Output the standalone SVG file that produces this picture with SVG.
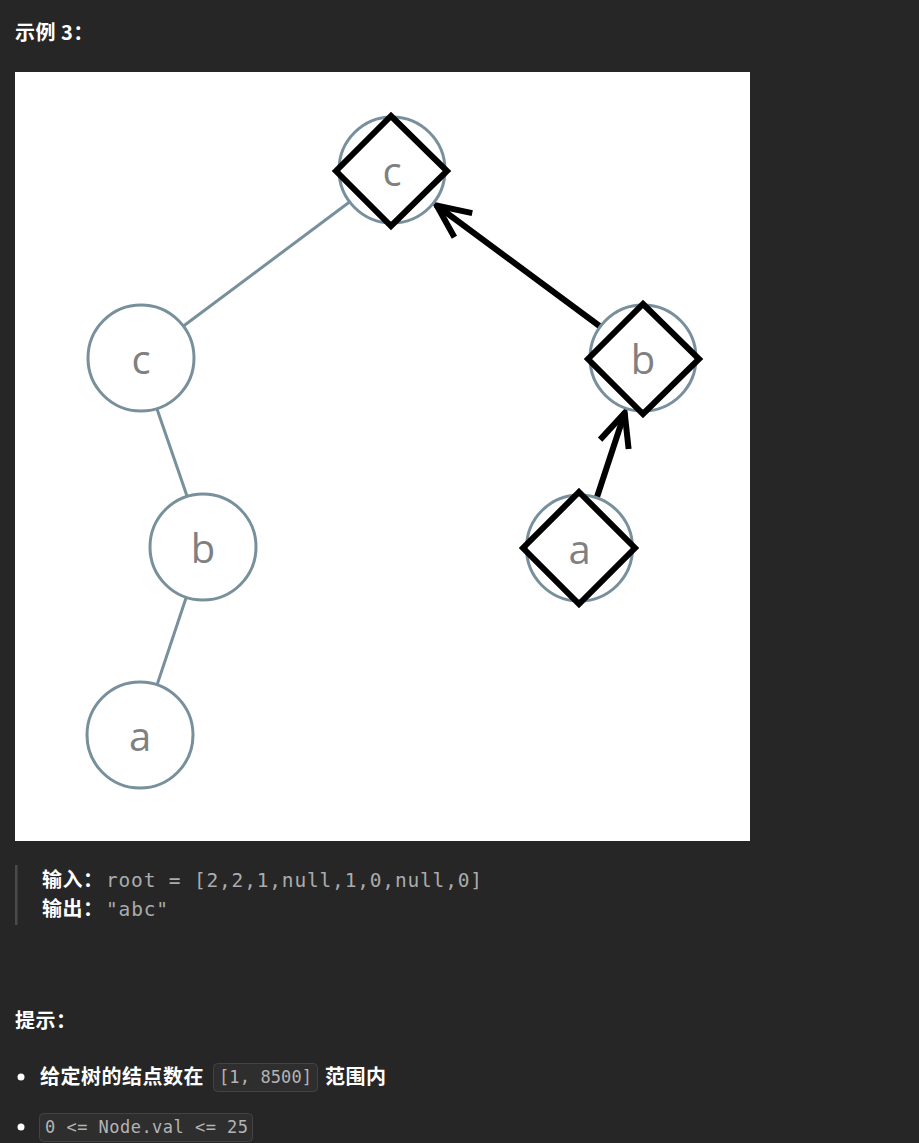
<svg xmlns="http://www.w3.org/2000/svg" width="919" height="1143" viewBox="0 0 919 1143">
<style>
.h{font-family:"Noto Sans CJK SC","Liberation Sans",sans-serif;font-weight:700;font-size:20px;letter-spacing:0.5px;fill:#ffffff}
.code{font-family:"DejaVu Sans Mono","Liberation Mono",monospace;font-size:19.5px;fill:#ababab}
.icode{font-family:"DejaVu Sans Mono","Liberation Mono",monospace;font-size:17px;fill:#b4b4b4}
.cbox{fill:#2e2e2e;stroke:#434343;stroke-width:1}
.nc{fill:#ffffff;stroke:#78909c;stroke-width:3}
.nt{font-family:"Open Sans","Noto Sans",sans-serif;font-size:40px;fill:#808080;text-anchor:middle}
.dm{fill:none;stroke:#000000;stroke-width:6;stroke-linejoin:miter}
.edge{stroke:#78909c;stroke-width:3}
.arr{stroke:#000000;stroke-width:6;fill:none}
</style>
<defs>
<marker id="ah" markerUnits="userSpaceOnUse" markerWidth="80" markerHeight="80" refX="0" refY="0" orient="auto" overflow="visible">
<path d="M -34 -15 L -1 0 L -34 15" fill="none" stroke="#000000" stroke-width="6" stroke-linejoin="miter"/>
</marker>
</defs>
<rect x="0" y="0" width="919" height="1143" fill="#262626"/>
<text class="h" x="15" y="40">示例 3：</text>
<rect x="15" y="72" width="735" height="769" fill="#ffffff"/>
<g id="connectors">
<line class="edge" x1="183.5" y1="326" x2="349.5" y2="202"/>
<line class="edge" x1="157" y1="409" x2="187" y2="496"/>
<line class="edge" x1="186" y1="598" x2="157" y2="685"/>
<line class="arr" x1="599.5" y1="326" x2="436" y2="205" marker-end="url(#ah)"/>
<line class="arr" x1="597" y1="497" x2="625" y2="412" marker-end="url(#ah)"/>
</g>
<g id="node-root-c">
<circle class="nc" cx="392" cy="170" r="53"/>
<text class="nt" x="392" y="186">c</text>
<polygon class="dm" points="391,116 447,171 391,226 336,171"/>
</g>
<g id="node-left-c">
<circle class="nc" cx="141" cy="358" r="53"/>
<text class="nt" x="141" y="374">c</text>
</g>
<g id="node-left-b">
<circle class="nc" cx="203" cy="547" r="53"/>
<text class="nt" x="203" y="563">b</text>
</g>
<g id="node-left-a">
<circle class="nc" cx="140" cy="735" r="53"/>
<text class="nt" x="140" y="751">a</text>
</g>
<g id="node-right-b">
<circle class="nc" cx="643" cy="358" r="53"/>
<text class="nt" x="643" y="374">b</text>
<polygon class="dm" points="643,304 699,359 643,414 588,359"/>
</g>
<g id="node-right-a">
<circle class="nc" cx="579.5" cy="548" r="53"/>
<text class="nt" x="579.5" y="564">a</text>
<polygon class="dm" points="579,492 635,548 579,604 523,548"/>
</g>
<rect x="15" y="865" width="2.5" height="60" fill="#4a4a4a"/>
<text class="h" x="42" y="887">输入：</text>
<text class="code" x="106" y="887" textLength="376" lengthAdjust="spacing">root = [2,2,1,null,1,0,null,0]</text>
<text class="h" x="42" y="916">输出：</text>
<text class="code" x="106" y="916" textLength="62" lengthAdjust="spacing">"abc"</text>
<text class="h" x="15" y="1028">提示：</text>
<circle cx="21" cy="1077" r="3.5" fill="#ffffff"/>
<text class="h" x="40" y="1084">给定树的结点数在</text>
<rect class="cbox" x="213.5" y="1063.5" width="104" height="28" rx="4"/>
<text class="icode" x="219" y="1083" textLength="93" lengthAdjust="spacing">[1, 8500]</text>
<text class="h" x="325" y="1084">范围内</text>
<circle cx="21" cy="1127" r="3.5" fill="#ffffff"/>
<rect class="cbox" x="39.5" y="1113.5" width="213" height="28" rx="4"/>
<text class="icode" x="45" y="1133" textLength="203" lengthAdjust="spacing">0 &lt;= Node.val &lt;= 25</text>
</svg>
